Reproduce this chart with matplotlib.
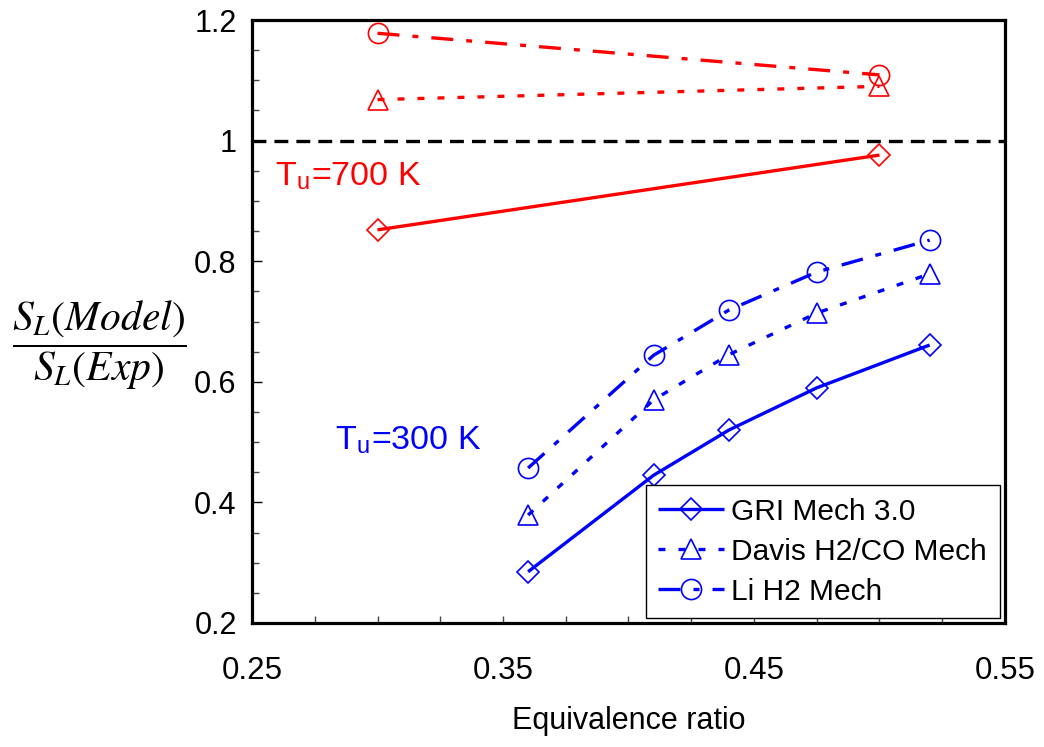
import matplotlib
matplotlib.use("Agg")
import matplotlib.pyplot as plt
from matplotlib.ticker import MultipleLocator, FuncFormatter

plt.rcParams['font.family'] = ['Liberation Sans', 'DejaVu Sans']
plt.rcParams['mathtext.fontset'] = 'stix'
plt.rcParams['lines.scale_dashes'] = False

# Equivalence ratios
phi_700 = [0.30, 0.50]
phi_300 = [0.36, 0.41, 0.44, 0.475, 0.52]

# S_L(model) / S_L(experiment) at T_u = 700 K
gri_700 = [0.852, 0.976]
davis_700 = [1.068, 1.090]
li_700 = [1.178, 1.109]

# S_L(model) / S_L(experiment) at T_u = 300 K
gri_300 = [0.285, 0.445, 0.520, 0.590, 0.661]
davis_300 = [0.379, 0.570, 0.645, 0.714, 0.779]
li_300 = [0.457, 0.644, 0.719, 0.782, 0.835]

mech_labels = ["GRI Mech 3.0", "Davis H2/CO Mech", "Li H2 Mech"]

x_ticks = [0.25, 0.35, 0.45, 0.55]
y_ticks = [0.2, 0.4, 0.6, 0.8, 1.0, 1.2]

RED = "#FF0000"
BLUE = "#0000FF"
LW = 2.4
solid = (0, ())
dotted = (0, (5.0, 9.4))
dashdot = (0, (15.8, 9.4, 4.3, 9.4))

styles = [
    dict(marker="D", ms=11, ls=solid),
    dict(marker="^", ms=14.5, ls=dotted),
    dict(marker="o", ms=14.5, ls=dashdot),
]

fig = plt.figure(figsize=(10.44, 7.47), dpi=100)
ax = fig.add_axes([0.2414, 0.166, 0.7212, 0.8072])

for ys, st in zip([gri_700, davis_700, li_700], styles):
    ax.plot(phi_700, ys, color=RED, lw=LW, linestyle=st["ls"], marker=st["marker"],
            ms=st["ms"], mfc="none", mec=RED, mew=1.2)

handles = []
for ys, st, lab in zip([gri_300, davis_300, li_300], styles, mech_labels):
    h, = ax.plot(phi_300, ys, color=BLUE, lw=LW, linestyle=st["ls"], marker=st["marker"],
                 ms=st["ms"], mfc="none", mec=BLUE, mew=1.2, label=lab)
    handles.append(h)

# Reference line: model equals experiment
ax.axhline(1.0, color="black", lw=2.4, linestyle=(0, (10.0, 5.8)))

ax.text(0.2592, 0.926, r"T$_\mathregular{u}$=700 K", color=RED, fontsize=24.5, va="baseline")
ax.text(0.283, 0.487, r"T$_\mathregular{u}$=300 K", color=BLUE, fontsize=24.5, va="baseline")

ax.set_xlim(0.25, 0.55)
ax.set_ylim(0.2, 1.2)
ax.set_xticks(x_ticks)
ax.xaxis.set_minor_locator(MultipleLocator(0.025))
ax.set_yticks(y_ticks)
ax.yaxis.set_minor_locator(MultipleLocator(0.05))
ax.yaxis.set_major_formatter(FuncFormatter(lambda v, p: f"{v:g}"))
ax.xaxis.set_major_formatter(FuncFormatter(lambda v, p: f"{v:.2f}"))

ax.tick_params(axis="x", which="both", direction="in", length=5, width=1, pad=24,
               labelsize=22.5, color="#444444")
ax.tick_params(axis="y", which="major", direction="in", length=7, width=1, pad=11,
               labelsize=22)
ax.tick_params(axis="y", which="minor", direction="in", length=5, width=1, color="#444444")

for s in ax.spines.values():
    s.set_linewidth(2.3)

ax.set_xlabel("Equivalence ratio", fontsize=22, labelpad=14)
ax.set_ylabel(r"$\dfrac{S_L(Model)}{S_L(Exp)}$", fontsize=30, rotation=0,
              ha="center", va="center")
ax.yaxis.set_label_coords(-0.202, 0.461)

leg = ax.legend(handles=handles, loc="lower right", bbox_to_anchor=(0.993, 0.008),
                borderaxespad=0, fontsize=21.5, frameon=True, fancybox=False,
                handlelength=2.2, handletextpad=0.25, labelspacing=0.4,
                borderpad=0.42)
leg.get_frame().set_edgecolor("black")
leg.get_frame().set_linewidth(1.0)
leg.get_frame().set_alpha(1)

fig.savefig("out.png", dpi=100)
